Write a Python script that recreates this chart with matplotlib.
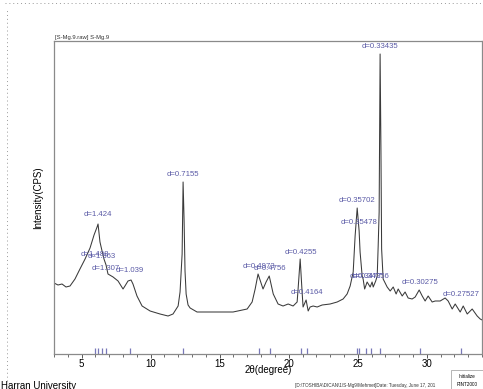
import numpy as np
import matplotlib.pyplot as plt
from matplotlib.lines import Line2D
from matplotlib.patches import Rectangle

plt.rcParams['font.family'] = ['Liberation Sans', 'DejaVu Sans']

# diffraction scan (2theta in degrees, intensity in counts)
two_theta = [3.00, 3.29, 3.58, 3.87, 4.16, 4.52, 4.88, 5.25, 5.61, 5.90,
             6.12, 6.19, 6.33, 6.48, 6.62, 6.77, 6.91, 7.28, 7.64, 8.00,
             8.14, 8.36, 8.58, 8.72, 9.01, 9.38, 9.96, 10.68, 11.26, 11.62,
             11.99, 12.13, 12.28, 12.35, 12.42, 12.49, 12.57, 12.71, 12.86, 13.36,
             14.81, 15.97, 16.99, 17.35, 17.57, 17.78, 18.14, 18.36, 18.59, 18.88,
             19.23, 19.59, 19.96, 20.32, 20.61, 20.68, 20.83, 20.97, 21.04, 21.26,
             21.41, 21.55, 21.77, 22.06, 22.42, 23.00, 23.51, 23.94, 24.23, 24.45,
             24.67, 24.81, 24.96, 25.10, 25.17, 25.32, 25.39, 25.50, 25.68, 25.90,
             26.04, 26.12, 26.30, 26.41, 26.48, 26.55, 26.62, 26.68, 26.73, 26.84,
             27.13, 27.35, 27.57, 27.78, 27.93, 28.22, 28.43, 28.65, 28.94, 29.16,
             29.45, 29.67, 29.88, 30.10, 30.39, 30.61, 30.97, 31.33, 31.55, 31.84,
             32.06, 32.42, 32.64, 32.93, 33.29, 33.65, 33.87, 34.01]
intensity = [71, 69, 70, 67, 68, 75, 85, 95, 106, 119,
             127, 130, 112, 103, 95, 89, 80, 77, 73, 65,
             68, 73, 74, 70, 58, 48, 43, 40, 38, 40,
             48, 62, 100, 172, 135, 83, 60, 49, 46, 42,
             42, 42, 45, 52, 65, 80, 65, 72, 78, 60,
             50, 48, 50, 48, 52, 65, 95, 62, 47, 54,
             43, 47, 48, 47, 49, 50, 52, 55, 60, 68,
             82, 118, 146, 123, 102, 78, 75, 65, 72, 67,
             72, 67, 73, 78, 108, 142, 300, 205, 105, 75,
             67, 63, 67, 60, 65, 58, 62, 56, 55, 57,
             64, 58, 53, 58, 52, 53, 53, 56, 53, 45,
             50, 42, 48, 40, 45, 38, 35, 34]

# identified reflections: d-spacing (nm) and height of their labels
d_spacing = [1.488, 1.424, 1.363, 1.307, 1.039, 0.7155, 0.4973, 0.4756, 0.4255,
             0.4164, 0.35702, 0.35478, 0.3477, 0.34256, 0.33435, 0.30275, 0.27527]
label_level = [99, 139, 97, 85, 83, 179, 87, 85, 102,
               62, 154, 131, 77, 77, 307, 71, 59]

wavelength = 0.154060  # Cu K-alpha1, nm
peak_2theta = [2 * np.degrees(np.arcsin(wavelength / (2 * d))) for d in d_spacing]

label_col = '#5a5aa6'

fig = plt.figure(figsize=(4.83, 3.89), dpi=100)
ax = fig.add_axes([54 / 483, 35 / 389, 428 / 483, 313 / 389])

ax.plot(two_theta, intensity, color='#3a3a3a', lw=0.75)

for tt, d, lv in zip(peak_2theta, d_spacing, label_level):
    ax.vlines(tt, 0, 6, color='#7878b8', lw=0.9)
    ax.text(tt, lv, 'd=%g' % d, ha='center', va='center', fontsize=5.6, color=label_col)

ax.set_xlim(3, 34)
ax.set_ylim(0, 313)
ax.set_xticks([5, 10, 15, 20, 25, 30])
ax.set_xticks(np.arange(3, 35, 1), minor=True)
ax.set_yticks([])
ax.tick_params(axis='x', labelsize=7, length=3, width=0.7, color='#555555', pad=0.5)
ax.tick_params(axis='x', which='minor', length=2, width=0.6, color='#555555')
for s in ax.spines.values():
    s.set_color('#8a8a8a')
    s.set_linewidth(0.9)
ax.set_xlabel('2θ(degree)', fontsize=7, labelpad=-3)
ax.set_ylabel('Intensity(CPS)', fontsize=7, labelpad=8)

fig.text(55 / 483, 1 - 37 / 389, '[S-Mg.9.raw] S-Mg.9', fontsize=4.2, va='center', color='#333333')

# page rulers along the top and left edges
fig.add_artist(Line2D([0.01, 1.0], [1 - 3 / 389, 1 - 3 / 389], ls=(0, (1, 3)), color='#999999', lw=0.7))
fig.add_artist(Line2D([7 / 483, 7 / 483], [0.02, 1 - 8 / 389], ls=(0, (1, 3)), color='#999999', lw=0.7))

# footer
fig.text(0.003, -0.006, 'Harran University', fontsize=7, va='bottom', ha='left')
fig.text(295 / 483, 3 / 389, '[D:\\TOSHIBA\\DICAN\\1\\S-Mg9\\Mehmet]Date: Tuesday, June 17, 201',
         fontsize=3.3, va='center', ha='left', color='#333333')
fig.add_artist(Rectangle((451 / 483, 0), 32 / 483, 19 / 389, transform=fig.transFigure,
                         fill=False, ec='#aaaaaa', lw=0.6))
fig.text(467 / 483, 13 / 389, 'Initialize', fontsize=3.3, ha='center', va='center')
fig.text(467 / 483, 4 / 389, 'RINT2000', fontsize=3.3, ha='center', va='center')

fig.savefig('out.png', dpi=100)
